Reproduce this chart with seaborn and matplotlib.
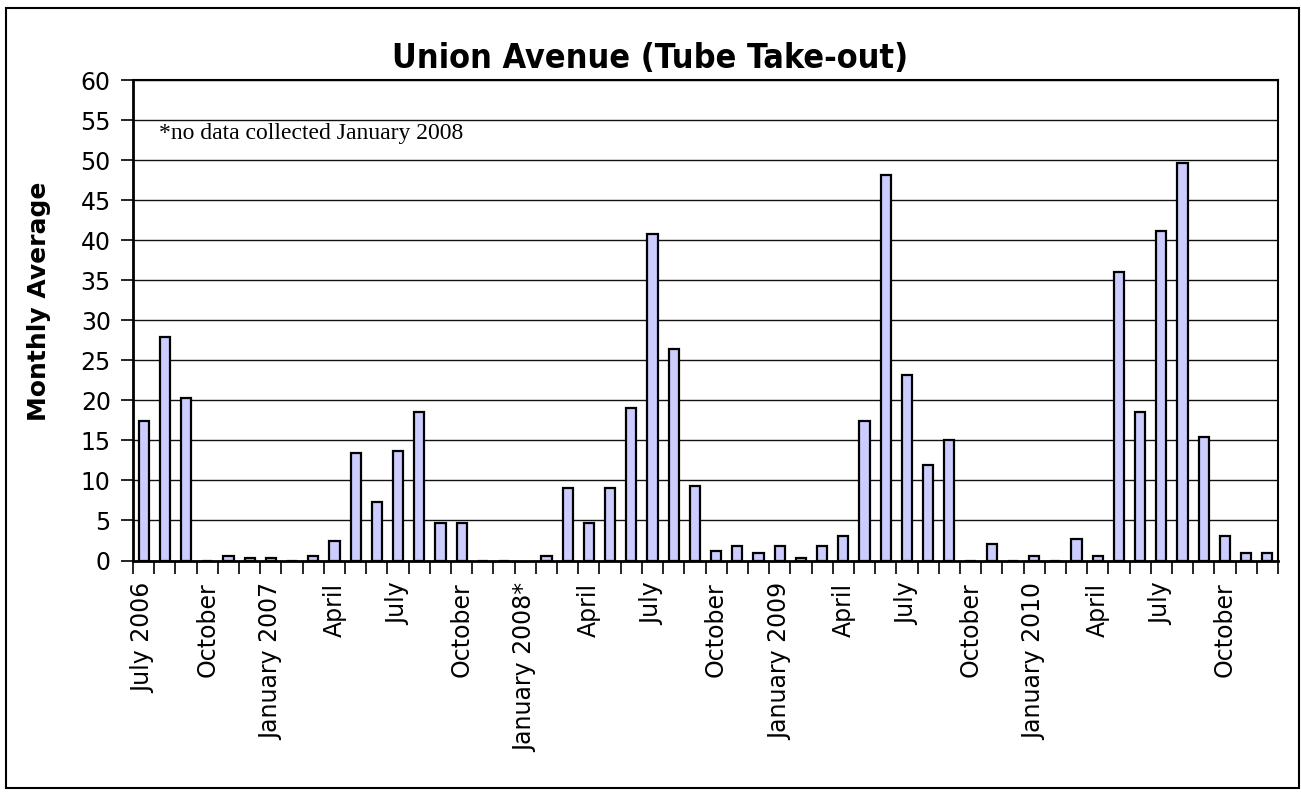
import matplotlib
matplotlib.use("Agg")
import matplotlib.pyplot as plt
from matplotlib.patches import Rectangle
from matplotlib.ticker import MultipleLocator, FixedLocator
import numpy as np
import pandas as pd
import seaborn as sns

# Monthly averages, July 2006 - December 2010 (January 2008 not collected)
months = [
    "2006-07", "2006-08", "2006-09", "2006-10", "2006-11", "2006-12",
    "2007-01", "2007-02", "2007-03", "2007-04", "2007-05", "2007-06",
    "2007-07", "2007-08", "2007-09", "2007-10", "2007-11", "2007-12",
    "2008-01", "2008-02", "2008-03", "2008-04", "2008-05", "2008-06",
    "2008-07", "2008-08", "2008-09", "2008-10", "2008-11", "2008-12",
    "2009-01", "2009-02", "2009-03", "2009-04", "2009-05", "2009-06",
    "2009-07", "2009-08", "2009-09", "2009-10", "2009-11", "2009-12",
    "2010-01", "2010-02", "2010-03", "2010-04", "2010-05", "2010-06",
    "2010-07", "2010-08", "2010-09", "2010-10", "2010-11", "2010-12",
]
values = [
    17.4, 27.9, 20.3, 0.0, 0.6, 0.3,
    0.3, 0.0, 0.6, 2.4, 13.4, 7.3,
    13.7, 18.5, 4.7, 4.7, 0.0, 0.0,
    np.nan, 0.6, 9.0, 4.7, 9.0, 19.1,
    40.8, 26.4, 9.3, 1.2, 1.8, 0.9,
    1.8, 0.35, 1.8, 3.0, 17.4, 48.1,
    23.2, 11.9, 15.1, 0.0, 2.1, 0.0,
    0.6, 0.0, 2.65, 0.6, 36.0, 18.5,
    41.1, 49.6, 15.4, 3.05, 0.95, 0.95,
]
tick_labels = [
    "July 2006", "October", "January 2007", "April", "July", "October",
    "January 2008*", "April", "July", "October", "January 2009", "April",
    "July", "October", "January 2010", "April", "July", "October",
]
title = "Union Avenue (Tube Take-out)"
ylabel = "Monthly Average"
note = "*no data collected January 2008"

df = pd.DataFrame({"month": months, "value": values})

sns.set_style("white")
plt.rcParams["font.family"] = ["DejaVu Sans"]
for key in ("text.color", "axes.labelcolor", "xtick.color", "ytick.color"):
    plt.rcParams[key] = "black"

W, H = 1301, 792
fig = plt.figure(figsize=(W / 100, H / 100), dpi=100)
ax = fig.add_axes([133 / W, 1 - 560.5 / H, 1145 / W, 480.5 / H])

sns.barplot(data=df, x="month", y="value", order=months, color="#ccccff",
            saturation=1, edgecolor="black", linewidth=1.6, width=0.48,
            errorbar=None, ax=ax, zorder=3)

ax.set_xlim(-0.5, len(months) - 0.5)
ax.set_ylim(0, 60)
ax.yaxis.set_major_locator(MultipleLocator(5))
ax.yaxis.grid(True, color="#111111", linewidth=1.0, zorder=0)
ax.set_axisbelow(True)

# category labels every third month, tick marks on category boundaries
label_pos = list(range(0, len(months), 3))
ax.xaxis.set_major_locator(FixedLocator(label_pos))
ax.set_xticklabels(tick_labels, rotation=90, va="top", ha="center",
                   fontsize=17)
ax.xaxis.set_minor_locator(FixedLocator(np.arange(-0.5, len(months), 1.0)))
ax.tick_params(axis="x", which="major", length=0, pad=16)
ax.tick_params(axis="x", which="minor", length=9, width=1.2, color="black",
               direction="out", bottom=True)
ax.tick_params(axis="y", which="major", length=9, width=1.2, color="black",
               direction="out", left=True, pad=7, labelsize=17)

for s in ax.spines.values():
    s.set_color("black")
    s.set_linewidth(1.5)
ax.spines["left"].set_linewidth(2)
ax.spines["bottom"].set_linewidth(2)

ax.set_xlabel("")
ax.set_ylabel(ylabel, fontsize=18, fontweight="bold", va="center")
ax.yaxis.set_label_coords(-0.082, 0.54)

fig.text(0.5, 1 - 68 / H, title, ha="center", va="baseline",
         fontsize=24.5, fontweight="bold", stretch="condensed")
fig.text(159 / W, 1 - 139 / H, note, ha="left", va="baseline",
         fontsize=17, family="Liberation Serif")

fig.patches.append(Rectangle((6 / W, 4 / H), (1299 - 6) / W, (788 - 8) / H,
                             transform=fig.transFigure, fill=False,
                             edgecolor="black", linewidth=1.5))

fig.savefig("out.png", dpi=100)
